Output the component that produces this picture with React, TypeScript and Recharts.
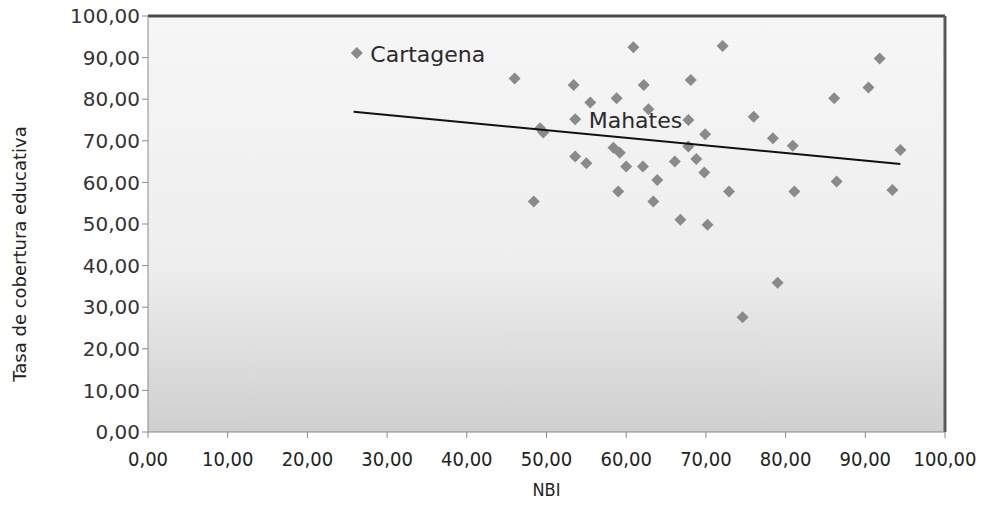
import React from 'react';
import {
  ScatterChart,
  Scatter,
  XAxis,
  YAxis,
  ReferenceArea,
  ReferenceLine,
  LabelList,
  Label,
} from 'recharts';

// NBI (x) and tasa de cobertura educativa (y) per municipio
const nbi = [
  26.2, 46.0, 49.2, 49.6, 48.4, 53.4, 55.5, 58.8, 53.6, 58.4, 59.2, 53.6, 55.0, 60.0,
  59.0, 60.9, 72.1, 91.8, 62.2, 68.1, 90.4, 86.1, 62.8, 67.8, 76.0, 69.9, 78.4, 80.9,
  94.4, 67.8, 68.8, 66.1, 62.1, 69.8, 63.9, 86.4, 72.9, 81.1, 93.4, 63.4, 66.8, 70.2,
  79.0, 74.6,
];
const tasa = [
  91.1, 85.0, 73.0, 72.0, 55.4, 83.4, 79.2, 80.2, 75.2, 68.3, 67.1, 66.2, 64.6, 63.8,
  57.8, 92.5, 92.8, 89.8, 83.4, 84.6, 82.8, 80.2, 77.6, 75.0, 75.8, 71.6, 70.6, 68.8,
  67.8, 68.6, 65.6, 65.0, 63.8, 62.4, 60.6, 60.2, 57.8, 57.8, 58.2, 55.4, 51.0, 49.8,
  35.9, 27.6,
];
const names = ['Cartagena', '', '', '', '', '', '', '', 'Mahates'];

// linear trend line end points
const trendX = [25.8, 94.4];
const trendY = [77.0, 64.4];

const xTicks = [0, 10, 20, 30, 40, 50, 60, 70, 80, 90, 100];
const yTicks = [0, 10, 20, 30, 40, 50, 60, 70, 80, 90, 100];

const points = nbi.map((x, i) => ({ x, y: tasa[i], name: names[i] || '' }));
const trend = trendX.map((x, i) => ({ x, y: trendY[i] }));

const fmt = (v: number) => v.toFixed(2).replace('.', ',');

const Diamond = (props: any) => {
  const { cx, cy } = props;
  if (cx == null || cy == null) return null;
  return (
    <polygon
      points={`${cx},${cy - 6} ${cx + 6},${cy} ${cx},${cy + 6} ${cx - 6},${cy}`}
      fill="#8a8a8a"
    />
  );
};

const NameLabel = (props: any) => {
  const { x, y, value } = props;
  if (!value) return null;
  return (
    <text x={x + 18} y={y + 13} fontFamily="DejaVu Sans" fontSize={22} fill="#2a2a2a">
      {value}
    </text>
  );
};

const YTitle = (props: any) => {
  const { viewBox } = props;
  const cy = viewBox.y + viewBox.height / 2 + 30;
  return (
    <text
      x={26}
      y={cy}
      transform={`rotate(-90, 26, ${cy})`}
      textAnchor="middle"
      fontFamily="DejaVu Sans"
      fontSize={18}
      fill="#222"
    >
      Tasa de cobertura educativa
    </text>
  );
};

export default function App() {
  return (
    <div style={{ position: 'absolute', left: 0, top: 0, background: '#fff' }}>
      <ScatterChart
        width={989}
        height={508}
        margin={{ top: 16, right: 44, left: 0, bottom: 6 }}
      >
        <defs>
          <linearGradient id="bg" x1="0" y1="0" x2="0" y2="1">
            <stop offset="0%" stopColor="#f6f6f6" />
            <stop offset="60%" stopColor="#eeeeee" />
            <stop offset="100%" stopColor="#cfcfcf" />
          </linearGradient>
        </defs>
        <ReferenceArea x1={0} x2={100} y1={0} y2={100} fill="url(#bg)" fillOpacity={1} stroke="none" />
        <XAxis
          type="number"
          dataKey="x"
          domain={[0, 100]}
          ticks={xTicks}
          tickFormatter={fmt}
          stroke="#8a8a8a"
          tick={{ fill: '#222', fontSize: 20, fontFamily: 'DejaVu Sans Condensed' }}
          tickSize={6}
          tickMargin={14}
          height={70}
        >
          <Label
            value="NBI"
            position="insideBottom"
            offset={6}
            style={{ fill: '#222', fontSize: 18, fontFamily: 'DejaVu Sans Condensed' }}
          />
        </XAxis>
        <YAxis
          type="number"
          dataKey="y"
          domain={[0, 100]}
          ticks={yTicks}
          tickFormatter={fmt}
          stroke="#8a8a8a"
          tick={{ fill: '#333', fontSize: 20, fontFamily: 'DejaVu Sans' }}
          tickSize={6}
          width={148}
        >
          <Label content={<YTitle />} />
        </YAxis>
        <ReferenceLine y={100} stroke="#4a4a4a" strokeWidth={3} />
        <ReferenceLine x={100} stroke="#5a5a5a" strokeWidth={3} />
        <Scatter data={points} shape={<Diamond />} isAnimationActive={false}>
          <LabelList dataKey="name" content={<NameLabel />} />
        </Scatter>
        <Scatter
          data={trend}
          line={{ stroke: '#111', strokeWidth: 2 }}
          shape={() => null}
          isAnimationActive={false}
        />
      </ScatterChart>
    </div>
  );
}
